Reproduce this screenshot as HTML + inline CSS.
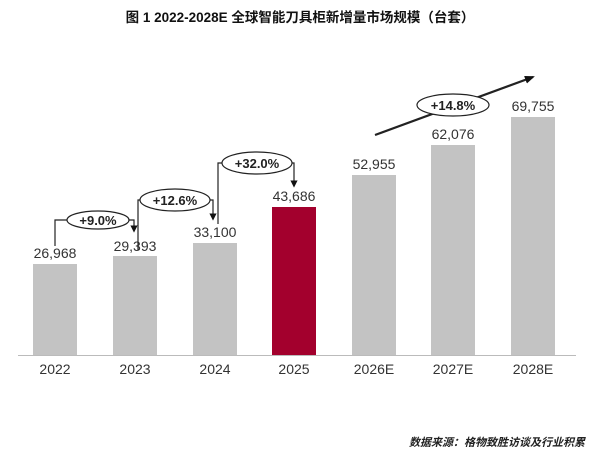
<!DOCTYPE html>
<html><head><meta charset="utf-8"><style>
body{margin:0;background:#fff;}
svg{display:block;font-family:"Liberation Sans","Noto Sans CJK SC",sans-serif;}
</style></head><body>
<svg width="600" height="457" viewBox="0 0 600 457">
<defs><marker id="a" markerWidth="6" markerHeight="6" refX="3" refY="3" orient="auto"><path d="M0,0L6,3L0,6z" fill="#111"/></marker>
<marker id="b" markerWidth="10" markerHeight="8" refX="8" refY="4" orient="auto" markerUnits="userSpaceOnUse"><path d="M0,0L10,4L0,8z" fill="#111"/></marker></defs>
<text x="300" y="22" font-size="13.5" font-weight="bold" text-anchor="middle" fill="#111">图 1  2022-2028E 全球智能刀具柜新增量市场规模（台套）</text>
<g fill="#c3c3c3">
<rect x="33" y="264" width="44" height="91"/>
<rect x="113" y="256" width="44" height="99"/>
<rect x="193" y="243" width="44" height="112"/>
<rect x="272" y="207" width="44" height="148" fill="#a3002d"/>
<rect x="352" y="175" width="44" height="180"/>
<rect x="431" y="145" width="44" height="210"/>
<rect x="511" y="117" width="44" height="238"/>
</g>
<line x1="18" y1="355.5" x2="576" y2="355.5" stroke="#bbb"/>
<g font-size="14" fill="#333" text-anchor="middle">
<text x="55" y="258">26,968</text><text x="135" y="251">29,393</text><text x="215" y="237">33,100</text>
<text x="294" y="201">43,686</text><text x="374" y="169">52,955</text><text x="453" y="139">62,076</text><text x="533" y="111">69,755</text>
<text x="55" y="374">2022</text><text x="135" y="374">2023</text><text x="215" y="374">2024</text><text x="294" y="374">2025</text>
<text x="374" y="374">2026E</text><text x="453" y="374">2027E</text><text x="533" y="374">2028E</text>
</g>
<g stroke="#222" stroke-width="1.2" fill="none">
<path d="M55,246V220H68M128,220H134V229" marker-end="url(#a)"/>
<ellipse cx="98" cy="220" rx="31" ry="9" fill="#fff"/>
<path d="M138,250V200H140M210,200H213V217" marker-end="url(#a)"/>
<ellipse cx="175" cy="200" rx="35" ry="11" fill="#fff"/>
<path d="M218,224V163H222M292,163H294V184" marker-end="url(#a)"/>
<ellipse cx="257" cy="163" rx="35" ry="11" fill="#fff"/>
<line x1="375" y1="135" x2="533" y2="77" stroke-width="2.2" marker-end="url(#b)"/>
<ellipse cx="453" cy="105" rx="36" ry="11" fill="#fff"/>
</g>
<g font-size="13" font-weight="bold" fill="#222" text-anchor="middle">
<text x="98" y="225">+9.0%</text><text x="175" y="205">+12.6%</text><text x="257" y="168">+32.0%</text><text x="453" y="110">+14.8%</text>
</g>
<text x="585" y="446" font-size="11" font-style="italic" font-weight="bold" fill="#222" text-anchor="end">数据来源：格物致胜访谈及行业积累</text>
</svg>
</body></html>
